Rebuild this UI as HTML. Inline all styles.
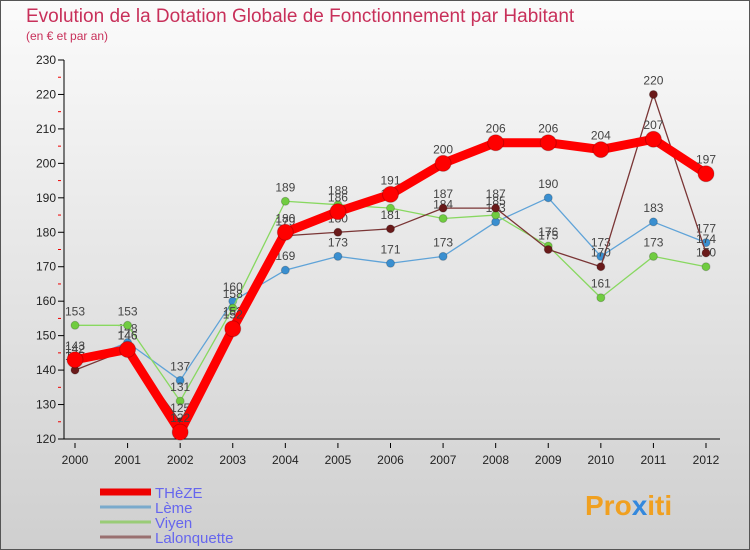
<!DOCTYPE html>
<html><head><meta charset="utf-8"><style>
body{margin:0;width:750px;height:550px;overflow:hidden;font-family:"Liberation Sans",sans-serif}
svg{display:block}
</style></head><body>
<svg id="chart" width="750" height="550" xmlns="http://www.w3.org/2000/svg">
<defs><linearGradient id="bg" x1="0" y1="0" x2="0" y2="1"><stop offset="0" stop-color="#fbfbfb"/><stop offset="1" stop-color="#cfcfcf"/></linearGradient></defs>
<rect x="0.5" y="0.5" width="749" height="549" fill="url(#bg)" stroke="#555"/>
<text x="26" y="22" font-size="19" fill="#c8305a">Evolution de la Dotation Globale de Fonctionnement par Habitant</text>
<text x="26" y="40" font-size="12" fill="#c8305a">(en € et par an)</text>
<g id="axes"></g>
<g id="series"></g>
<g id="legend"></g>
<text x="585" y="515" font-size="28" font-weight="bold" fill="#f0a020">Pro<tspan fill="#3388dd">x</tspan>iti</text>
</svg>
<script>
const years=["2000","2001","2002","2003","2004","2005","2006","2007","2008","2009","2010","2011","2012"];
const yTicks=[120,130,140,150,160,170,180,190,200,210,220,230];
const theze=[143,146,122,152,180,186,191,200,206,206,204,207,197];
const leme=[142,148,137,160,169,173,171,173,183,190,173,183,177];
const viyen=[153,153,131,158,189,188,187,184,185,176,161,173,170];
const lalonquette=[140,146,125,153,179,180,181,187,187,175,170,220,174];
const seriesNames=["THèZE","Lème","Viyen","Lalonquette"];
const NS="http://www.w3.org/2000/svg";
const xS=i=>75+i*(706-75)/(years.length-1);
const yS=v=>439-(v-120)*(439-60)/110;
function mk(tag,attrs,parent){const e=document.createElementNS(NS,tag);for(const k in attrs)e.setAttribute(k,attrs[k]);parent.appendChild(e);return e;}
const axes=document.getElementById('axes');
let yl=mk('line',{x1:64,y1:yS(230),x2:64,y2:yS(120),stroke:'#000'},axes);


let xl=mk('line',{x1:64,y1:yS(120),x2:720,y2:yS(120),stroke:'#000'},axes);


yTicks.forEach(t=>{
 mk('line',{x1:58,y1:yS(t),x2:64,y2:yS(t),stroke:'#000'},axes);
 if(t<230) mk('line',{x1:58,y1:yS(t+5),x2:61,y2:yS(t+5),stroke:'#e00'},axes);
 const tx=mk('text',{x:56,y:yS(t)+4,'font-size':12,'text-anchor':'end',fill:'#222'},axes);
 tx.textContent=t;
 
 
});
years.forEach((y,i)=>{
 mk('line',{x1:xS(i),y1:yS(120)+4,x2:xS(i),y2:yS(120)+9,stroke:'#000'},axes);
 const tx=mk('text',{x:xS(i),y:464,'font-size':12,'text-anchor':'middle',fill:'#222'},axes);
 tx.textContent=y;
 
 
});
const sg=document.getElementById('series');
function drawSeries(data,color,dot,w,r,name){
 const g=mk('g',{},sg);
 
 
 mk('polyline',{points:data.map((v,i)=>xS(i)+','+yS(v)).join(' '),fill:'none',stroke:color,'stroke-width':w,'stroke-linejoin':'round'},g);
 data.forEach((v,i)=>{
  const c=mk('circle',{cx:xS(i),cy:yS(v),r:r,fill:dot,stroke:'#0003'},g);
  
  
  const t=mk('text',{x:xS(i),y:yS(v)-10,'font-size':12,'text-anchor':'middle',fill:'#444'},g);
  t.textContent=v;
  
  
 });
}
drawSeries(leme,'#5fa3d8','#3a8fd0',1.3,4,'leme-series');
drawSeries(viyen,'#88d860','#70cc40',1.3,4,'viyen-series');
drawSeries(lalonquette,'#7a3535','#6a1a1a',1.3,4,'lalonquette-series');
drawSeries(theze,'#f00','#f00',9,8,'theze-series');
const lg=document.getElementById('legend');
const lcol=['#e00','#7aaacc','#99cc77','#997070'];
const lw=[7,3,3,3];
seriesNames.forEach((n,i)=>{
 const y=492+i*15;
 const l=mk('line',{x1:100,y1:y,x2:151,y2:y,stroke:lcol[i],'stroke-width':lw[i]},lg);
 
 
 const t=mk('text',{x:155,y:y+6,'font-size':15,fill:'#6666ee'},lg);
 t.textContent=n;
 
 
});
</script>
</body></html>
